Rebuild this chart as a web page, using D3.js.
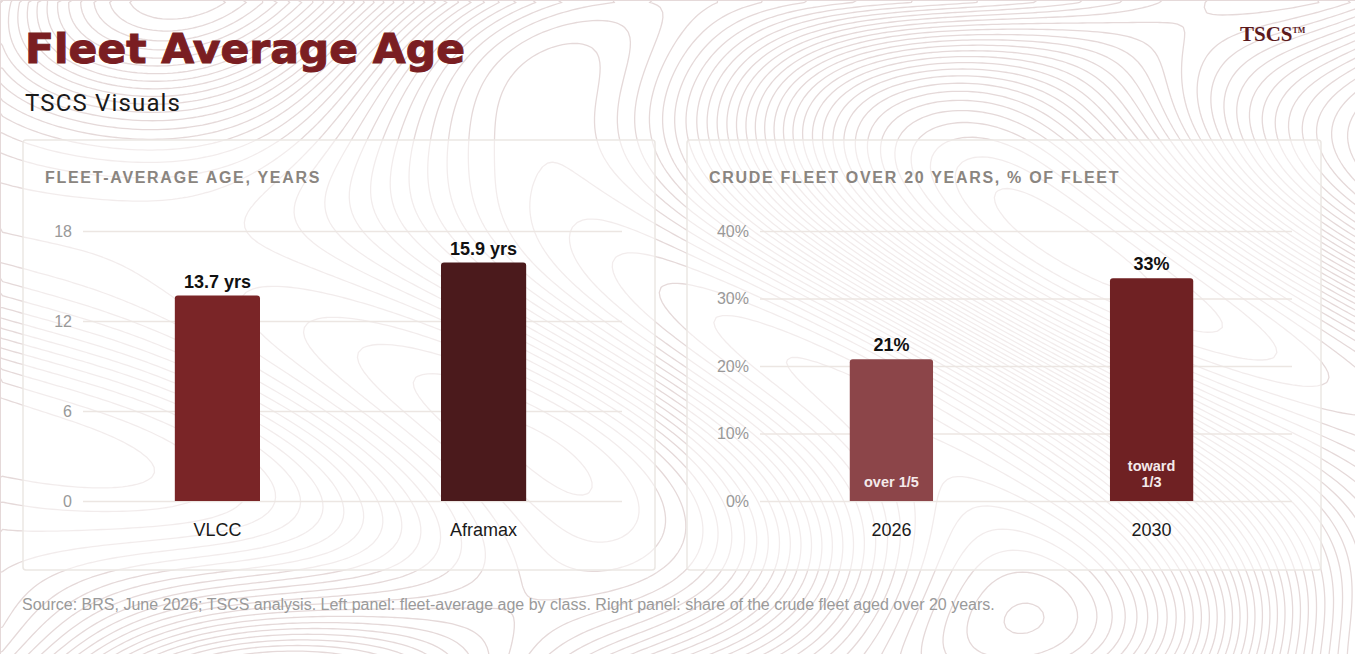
<!DOCTYPE html>
<html>
<head>
<meta charset="utf-8">
<script src="https://cdn.jsdelivr.net/npm/d3@7"></script>
<style>
  html, body { margin: 0; padding: 0; background: #fff; }
  svg { display: block; }
</style>
</head>
<body>
<svg id="chart" width="1355" height="654"></svg>
<script>
// left panel data
const classes = ['VLCC', 'Aframax'];
const avgAge = [13.7, 15.9];
const ageLabels = ['13.7 yrs', '15.9 yrs'];
const ageTicks = [0, 6, 12, 18];

// right panel data
const years = ['2026', '2030'];
const over20 = [21, 33];
const over20Labels = ['21%', '33%'];
const over20Notes = [['over 1/5'], ['toward', '1/3']];
const pctTicks = [0, 10, 20, 30, 40];

const W = 1355, H = 654;
const svg = d3.select('#chart');

// faint topographic background (decoration only)
const gridStep = 5;
const nx = Math.ceil(W / gridStep) + 1, ny = Math.ceil(H / gridStep) + 1;
const field = new Array(nx * ny);
for (let j = 0; j < ny; j++) {
    for (let i = 0; i < nx; i++) {
        const x = i * gridStep, y = j * gridStep;
        field[j * nx + i] =
            Math.sin(x * 0.006 + 1.6 * Math.sin(y * 0.008 + 0.4)) +
            0.6 * Math.cos(y * 0.007 - x * 0.003 + 1.2) +
            0.3 * Math.sin((x - y) * 0.01);
    }
}
const contours = d3.contours().size([nx, ny]).thresholds(d3.range(-2, 2, 0.08))(field);
svg.append('g')
    .attr('transform', `scale(${gridStep})`)
    .selectAll('path')
    .data(contours)
    .join('path')
    .attr('d', d3.geoPath())
    .attr('fill', 'none')
    .attr('stroke', '#e5d9d9')
    .attr('stroke-width', 1.3 / gridStep);

// header
svg.append('text')
    .attr('x', 25).attr('y', 63)
    .attr('textLength', 440)
    .attr('lengthAdjust', 'spacingAndGlyphs')
    .style('font-family', '"DejaVu Sans", sans-serif')
    .style('font-weight', 700)
    .style('font-size', '41px')
    .style('fill', '#7a1e22')
    .style('stroke', '#7a1e22')
    .style('stroke-width', '1px')
    .text('Fleet Average Age');

svg.append('text')
    .attr('x', 25).attr('y', 111)
    .attr('textLength', 155)
    .style('font-family', 'Roboto, sans-serif')
    .style('font-size', '24px')
    .style('fill', '#1a1a1a')
    .text('TSCS Visuals');

const logo = svg.append('text')
    .attr('x', 1240).attr('y', 41)
    .style('font-family', '"Liberation Serif", serif')
    .style('font-weight', 700)
    .style('font-size', '21px')
    .style('fill', '#5c1a1d')
    .text('TSCS');
logo.append('tspan')
    .attr('dy', -8)
    .style('font-size', '8px')
    .text('TM');

// footer
svg.append('text')
    .attr('x', 22).attr('y', 610)
    .style('font-family', '"Liberation Sans", Arial, sans-serif')
    .style('font-size', '16px')
    .style('fill', '#9a9a9a')
    .text('Source: BRS, June 2026; TSCS analysis. Left panel: fleet-average age by class. Right panel: share of the crude fleet aged over 20 years.');

function panel(opt) {
    const g = svg.append('g');

    g.append('rect')
        .attr('x', opt.x0).attr('y', 140)
        .attr('width', opt.x1 - opt.x0).attr('height', 430)
        .attr('rx', 3)
        .attr('fill', 'rgba(255,255,255,0.5)')
        .attr('stroke', '#ebe7e3')
        .attr('stroke-width', 1.5);

    g.append('text')
        .attr('x', opt.x0 + 22).attr('y', 183)
        .style('font-family', '"Liberation Sans", Arial, sans-serif')
        .style('font-weight', 700)
        .style('font-size', '16px')
        .style('letter-spacing', '1.7px')
        .style('fill', '#8a8580')
        .text(opt.title);

    const x = d3.scaleBand()
        .domain(opt.cats)
        .range([opt.gx0, opt.bandEnd])
        .paddingInner(0.68)
        .paddingOuter(0.345);

    const y = d3.scaleLinear()
        .domain(opt.domain)
        .range([501, 231]);

    const yAxis = d3.axisLeft(y)
        .tickValues(opt.ticks)
        .tickSize(-(opt.gx1 - opt.gx0))
        .tickPadding(11)
        .tickFormat(opt.fmt);

    g.append('g')
        .attr('transform', `translate(${opt.gx0},0)`)
        .call(yAxis)
        .call(a => a.select('.domain').remove())
        .call(a => a.selectAll('.tick line').attr('stroke', '#ece6e2').attr('stroke-width', 1.5))
        .call(a => a.selectAll('.tick text')
            .style('font-family', '"Liberation Sans", Arial, sans-serif')
            .style('font-size', '16px')
            .style('fill', '#999'));

    const bars = g.append('g')
        .selectAll('g')
        .data(opt.vals)
        .join('g');

    bars.append('path')
        .attr('d', (d, i) => {
            const bx = x(opt.cats[i]), bw = x.bandwidth();
            const top = y(d), bot = y(0), r = 3;
            return `M${bx},${bot}V${top + r}Q${bx},${top} ${bx + r},${top}H${bx + bw - r}Q${bx + bw},${top} ${bx + bw},${top + r}V${bot}Z`;
        })
        .attr('fill', (d, i) => opt.colors[i]);

    bars.append('text')
        .attr('x', (d, i) => x(opt.cats[i]) + x.bandwidth() / 2)
        .attr('y', d => y(d) - 8)
        .attr('text-anchor', 'middle')
        .style('font-family', '"Liberation Sans", Arial, sans-serif')
        .style('font-weight', 700)
        .style('font-size', '18px')
        .style('fill', '#111')
        .text((d, i) => opt.labels[i]);

    if (opt.notes) {
        bars.each((d, i, n) => {
            const lines = opt.notes[i];
            d3.select(n[i]).selectAll('text.note')
                .data(lines)
                .join('text')
                .attr('class', 'note')
                .attr('x', x(opt.cats[i]) + x.bandwidth() / 2)
                .attr('y', (t, k) => y(0) - 14 - (lines.length - 1 - k) * 16)
                .attr('text-anchor', 'middle')
                .style('font-family', '"Liberation Sans", Arial, sans-serif')
                .style('font-weight', 700)
                .style('font-size', '14.5px')
                .style('fill', '#f4eaea')
                .text(t => t);
        });
    }

    g.append('g')
        .selectAll('text')
        .data(opt.cats)
        .join('text')
        .attr('x', d => x(d) + x.bandwidth() / 2)
        .attr('y', 536)
        .attr('text-anchor', 'middle')
        .style('font-family', '"Liberation Sans", Arial, sans-serif')
        .style('font-size', '18px')
        .style('fill', '#1a1a1a')
        .text(d => d);
}

panel({
    x0: 23, x1: 655, gx0: 83, gx1: 622, bandEnd: 618,
    title: 'FLEET-AVERAGE AGE, YEARS',
    cats: classes, vals: avgAge, labels: ageLabels,
    domain: [0, 18], ticks: ageTicks, fmt: d3.format('d'),
    colors: ['#7a2527', '#4b1a1c']
});

panel({
    x0: 687, x1: 1321, gx0: 760, gx1: 1292, bandEnd: 1283,
    title: 'CRUDE FLEET OVER 20 YEARS, % OF FLEET',
    cats: years, vals: over20, labels: over20Labels, notes: over20Notes,
    domain: [0, 40], ticks: pctTicks, fmt: d => d + '%',
    colors: ['#8c4549', '#6f2123']
});
</script>
</body>
</html>
